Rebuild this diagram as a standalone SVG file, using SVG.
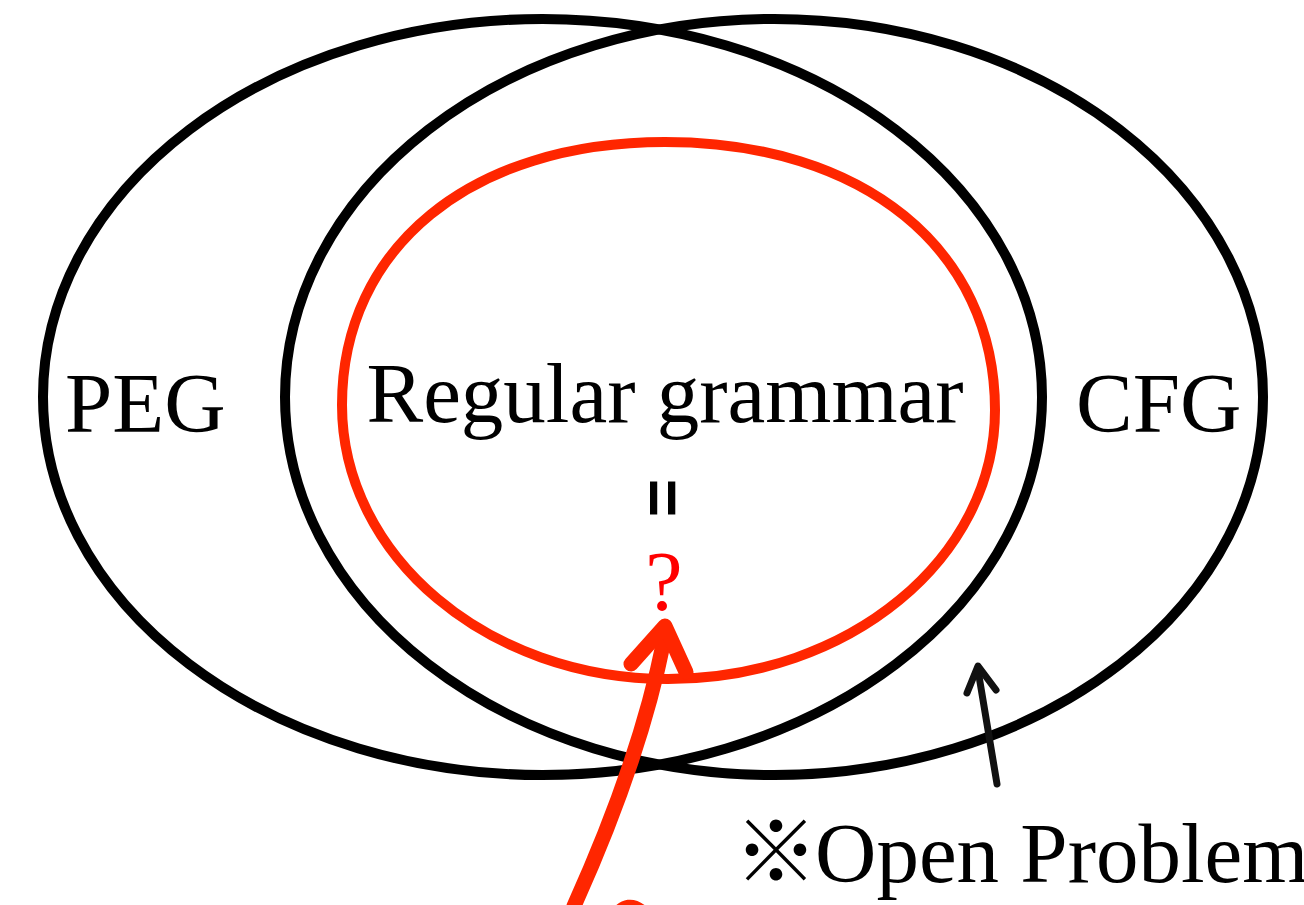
<svg xmlns="http://www.w3.org/2000/svg" width="1304" height="905" viewBox="0 0 1304 905">
  <style>
    .set { fill: none; stroke: #000; stroke-width: 10; }
    .reg { fill: none; stroke: #ff2600; stroke-width: 10; }
    .lbl { font-family: "Liberation Serif", "Times New Roman", serif; font-size: 85px; fill: #000; }
    .red { fill: none; stroke: #ff2600; stroke-width: 15; stroke-linecap: round; stroke-linejoin: round; }
    .blk { fill: none; stroke: #111; stroke-width: 7; stroke-linecap: round; stroke-linejoin: round; }
  </style>
  <rect width="1304" height="905" fill="#fff"/>
  <g id="peg">
    <ellipse class="set" cx="542.5" cy="397" rx="499.5" ry="378"/>
    <text class="lbl" x="65" y="432">PEG</text>
  </g>
  <g id="cfg">
    <ellipse class="set" cx="774" cy="397" rx="489" ry="378"/>
    <text class="lbl" x="1076" y="432">CFG</text>
  </g>
  <g id="regular">
    <path class="reg" d="M 342 405 C 342 247.2, 471.2 142, 665 142 C 863 142, 995 249.2, 995 410 C 995 558.6, 848.6 679, 668 679 C 488 679, 342 556.3, 342 405 Z"/>
    <text class="lbl" x="665" y="422" text-anchor="middle">Regular grammar</text>
    <text x="0" y="0" transform="translate(640,498) rotate(90)" text-anchor="middle" font-family="Liberation Sans, Arial, sans-serif" font-weight="bold" font-size="66" fill="#000">=</text>
    <text x="664" y="610" text-anchor="middle" font-family="Liberation Serif, Times New Roman, serif" font-size="84" fill="#ff0000">?</text>
  </g>
  <g id="open-problem">
    <text x="734" y="882" font-family="Noto Sans CJK JP, sans-serif" font-size="84" fill="#000">※</text>
    <text class="lbl" x="815" y="882" font-size="86">Open Problem</text>
  </g>
  <g id="connectors">
    <path class="red" d="M 574 906 Q 640 760 664 640"/>
    <polyline class="red" points="631,664 665,626 686,672" stroke-width="18" stroke-linejoin="miter"/>
    <path class="red" d="M 618 914 Q 628 902 640 911" stroke-width="12"/>
    <line class="blk" x1="997" y1="784" x2="978" y2="670"/>
    <polyline class="blk" points="967,693 978,666 996,690" stroke-linejoin="miter"/>
  </g>
</svg>
